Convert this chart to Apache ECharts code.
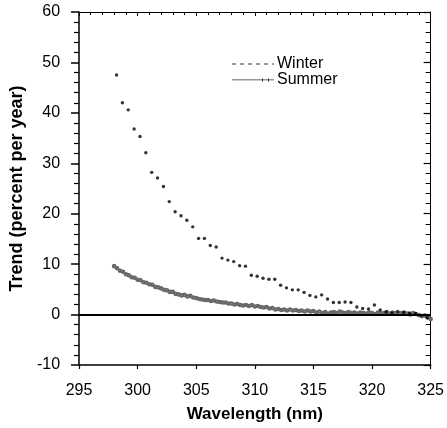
<!DOCTYPE html>
<html>
<head>
<meta charset="utf-8">
<script src="https://cdn.jsdelivr.net/npm/echarts@6/dist/echarts.min.js"></script>
<style>
html,body{margin:0;padding:0;background:#fff;}
#chart{width:447px;height:428px;}
</style>
</head>
<body>
<div id="chart"></div>
<script>
// ---- data ----
const xTicks = [295, 300, 305, 310, 315, 320, 325];
const yTicks = [-10, 0, 10, 20, 30, 40, 50, 60];

const winterWavelength = [298.2, 298.7, 299.2, 299.7, 300.2, 300.7, 301.2, 301.7, 302.2, 302.7,
  303.2, 303.7, 304.2, 304.7, 305.2, 305.7, 306.2, 306.7, 307.2, 307.7,
  308.2, 308.7, 309.2, 309.7, 310.2, 310.7, 311.2, 311.7, 312.2, 312.7,
  313.2, 313.7, 314.2, 314.7, 315.2, 315.7, 316.2, 316.7, 317.2, 317.7,
  318.2, 318.7, 319.2, 319.7, 320.2, 320.7, 321.2, 321.7, 322.2, 322.7,
  323.2, 323.7, 324.2, 324.7];
const winterTrend = [47.5, 42.0, 40.6, 36.8, 35.3, 32.1, 28.2, 27.1, 25.4, 22.4,
  20.4, 19.6, 18.7, 17.4, 15.1, 15.1, 13.7, 13.4, 11.2, 10.8,
  10.5, 9.7, 9.6, 7.8, 7.6, 7.2, 7.0, 7.0, 5.8, 5.3,
  4.9, 4.9, 4.4, 3.8, 3.5, 3.9, 3.1, 2.4, 2.4, 2.5,
  2.4, 1.5, 1.2, 1.1, 1.9, 0.9, 0.5, 0.3, 0.6, 0.4,
  0.3, 0.2, -0.2, -0.6];

const summerWavelength = [298.00, 298.25, 298.50, 298.75, 299.00, 299.25, 299.50, 299.75,
  300.00, 300.25, 300.50, 300.75, 301.00, 301.25, 301.50, 301.75,
  302.00, 302.25, 302.50, 302.75, 303.00, 303.25, 303.50, 303.75,
  304.00, 304.25, 304.50, 304.75, 305.00, 305.25, 305.50, 305.75,
  306.00, 306.25, 306.50, 306.75, 307.00, 307.25, 307.50, 307.75,
  308.00, 308.25, 308.50, 308.75, 309.00, 309.25, 309.50, 309.75,
  310.00, 310.25, 310.50, 310.75, 311.00, 311.25, 311.50, 311.75,
  312.00, 312.25, 312.50, 312.75, 313.00, 313.25, 313.50, 313.75,
  314.00, 314.25, 314.50, 314.75, 315.00, 315.25, 315.50, 315.75,
  316.00, 316.25, 316.50, 316.75, 317.00, 317.25, 317.50, 317.75,
  318.00, 318.25, 318.50, 318.75, 319.00, 319.25, 319.50, 319.75,
  320.00, 320.25, 320.50, 320.75, 321.00, 321.25, 321.50, 321.75,
  322.00, 322.25, 322.50, 322.75, 323.00, 323.25, 323.50, 323.75,
  324.00, 324.25, 324.50, 324.75, 325.00];
const summerTrend = [9.6, 9.2, 8.7, 8.5, 8.0, 7.8, 7.4, 7.3,
  6.9, 6.8, 6.4, 6.3, 6.0, 5.9, 5.5, 5.4,
  5.2, 4.9, 4.8, 4.5, 4.5, 4.1, 4.0, 3.8,
  3.9, 3.6, 3.7, 3.4, 3.3, 3.1, 3.0, 2.9,
  2.9, 2.7, 2.8, 2.6, 2.5, 2.4, 2.4, 2.2,
  2.2, 2.0, 2.1, 1.9, 1.8, 1.9, 1.7, 1.9,
  1.6, 1.7, 1.5, 1.4, 1.5, 1.2, 1.3, 1.0,
  1.1, 0.9, 1.0, 0.8, 1.0, 0.8, 0.9, 0.7,
  0.8, 0.6, 0.8, 0.6, 0.7, 0.4, 0.6, 0.3,
  0.5, 0.2, 0.4, 0.5, 0.3, 0.6, 0.4, 0.3,
  0.5, 0.3, 0.4, 0.2, 0.4, 0.3, 0.2, 0.4,
  0.3, 0.1, 0.4, 0.2, 0.3, 0.5, 0.2, 0.4,
  0.3, 0.1, 0.3, 0.4, 0.2, 0.0, 0.3, 0.1,
  -0.1, -0.3, -0.2, -0.6, -0.9];

const seriesNames = ['Winter', 'Summer'];

// ---- chart ----
const winterData = winterWavelength.map((w, i) => [w, winterTrend[i]]);
const summerData = summerWavelength.map((w, i) => [w, summerTrend[i]]);
const FONT = '"Liberation Sans", Arial, sans-serif';

const chart = echarts.init(document.getElementById('chart'), null, {renderer: 'canvas'});
chart.setOption({
  animation: false,
  backgroundColor: '#ffffff',
  textStyle: {fontFamily: FONT, color: '#000'},
  grid: {left: 76, right: 14, top: 12, bottom: 54, containLabel: false},
  legend: {
    orient: 'vertical',
    left: 227,
    top: 51,
    itemWidth: 42,
    itemHeight: 8,
    itemGap: 0,
    textStyle: {fontFamily: FONT, fontSize: 16, color: '#000', padding: [0, 0, 0, -2]},
    data: [
      {name: seriesNames[0], icon: 'path://M0,4h4v1h-4zM8,4h4v1h-4zM16,4h4v1h-4zM24,4h4v1h-4zM32,4h4v1h-4zM40,4h2v1h-2z',
       itemStyle: {color: '#000'}},
      {name: seriesNames[1], icon: 'path://M0,4h42v0.8h-42zM30,3h1v3h-1zM36,3h1v3h-1z',
       itemStyle: {color: '#333'}}
    ]
  },
  xAxis: [{
    type: 'value', min: xTicks[0], max: xTicks[xTicks.length - 1], interval: 5,
    axisLine: {show: true, onZero: false, lineStyle: {color: '#000', width: 1.5}},
    axisTick: {show: true, inside: false, length: 4, lineStyle: {color: '#000', width: 1.2}},
    minorTick: {show: false},
    splitLine: {show: false},
    axisLabel: {fontFamily: FONT, fontSize: 16, color: '#000', margin: 18},
    name: 'Wavelength (nm)', nameLocation: 'middle', nameGap: 41,
    nameTextStyle: {fontFamily: FONT, fontSize: 17, fontWeight: 'bold', color: '#000'}
  }, {
    type: 'value', position: 'top', min: 295, max: 325, interval: 5,
    axisLine: {show: true, onZero: false, lineStyle: {color: '#000', width: 1}},
    axisTick: {show: true, inside: true, length: 4, lineStyle: {color: '#000', width: 1}},
    minorTick: {show: true, splitNumber: 5, length: 3, lineStyle: {color: '#000', width: 1}},
    axisLabel: {show: false}, splitLine: {show: false}
  }],
  yAxis: [{
    type: 'value', min: yTicks[0], max: yTicks[yTicks.length - 1], interval: 10,
    axisLine: {show: true, onZero: false, lineStyle: {color: '#000', width: 1.5}},
    axisTick: {show: true, inside: false, length: 8, lineStyle: {color: '#000', width: 1.5}},
    minorTick: {show: true, splitNumber: 5, length: 5, lineStyle: {color: '#000', width: 1.2}},
    splitLine: {show: false},
    axisLabel: {fontFamily: FONT, fontSize: 16, color: '#000', margin: 19},
    name: 'Trend (percent per year)', nameLocation: 'middle', nameGap: 50,
    nameTextStyle: {fontFamily: FONT, fontSize: 18, fontWeight: 'bold', color: '#000'}
  }, {
    type: 'value', position: 'right', min: -10, max: 60, interval: 10,
    axisLine: {show: true, onZero: false, lineStyle: {color: '#000', width: 1}},
    axisTick: {show: true, inside: true, length: 7, lineStyle: {color: '#000', width: 1.2}},
    minorTick: {show: true, splitNumber: 5, length: 5, lineStyle: {color: '#000', width: 1}},
    axisLabel: {show: false}, splitLine: {show: false}
  }],
  series: [{
    name: seriesNames[0],
    type: 'scatter',
    data: winterData,
    symbol: 'circle',
    symbolSize: 3.4,
    itemStyle: {color: '#000'},
    z: 4
  }, {
    name: seriesNames[1],
    type: 'line',
    data: summerData,
    symbol: 'emptyCircle',
    symbolSize: 2.6,
    showSymbol: true,
    lineStyle: {color: '#999', width: 0.7, type: [2, 3]},
    itemStyle: {color: '#666', borderWidth: 0.7},
    z: 3,
    markLine: {
      silent: true,
      symbol: ['none', 'none'],
      label: {show: false},
      lineStyle: {color: '#000', width: 2, type: 'solid'},
      data: [{yAxis: 0}],
      animation: false
    }
  }]
});
</script>
</body>
</html>
